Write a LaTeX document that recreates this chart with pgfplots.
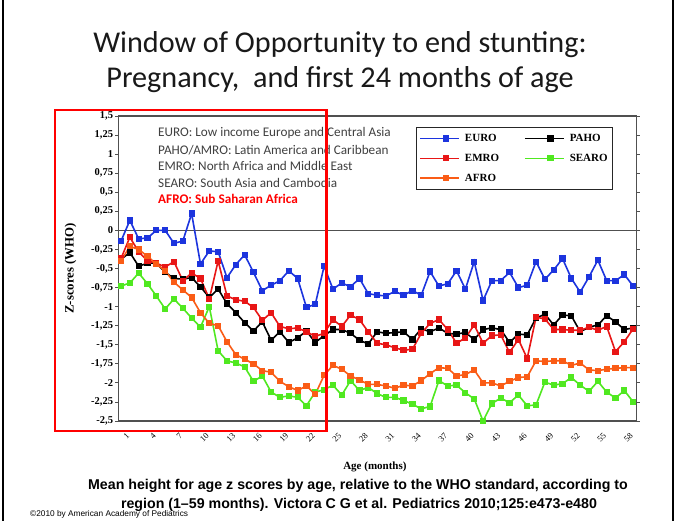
\documentclass[border=0pt]{standalone}
\usepackage{fontspec}
\setmainfont{Liberation Serif}
\newfontfamily\calibri{Carlito}
\newfontfamily\arial{Liberation Sans}
\usepackage{pgfplots}
\usepackage{pgfplotstable}
\pgfplotsset{compat=1.18}
\definecolor{cEuro}{RGB}{28,52,222}
\definecolor{cPaho}{RGB}{0,0,0}
\definecolor{cEmro}{RGB}{232,22,22}
\definecolor{cSearo}{RGB}{80,232,32}
\definecolor{cAfro}{RGB}{250,92,22}
\definecolor{axisgray}{RGB}{80,80,80}
\definecolor{notegray}{RGB}{64,64,64}

\pgfplotstableread{
m z
1 -0.14
2 0.13
3 -0.11
4 -0.10
5 0.00
6 0.00
7 -0.17
8 -0.14
9 0.22
10 -0.44
11 -0.27
12 -0.28
13 -0.62
14 -0.45
15 -0.32
16 -0.55
17 -0.79
18 -0.72
19 -0.66
20 -0.53
21 -0.63
22 -1.01
23 -0.97
24 -0.47
25 -0.77
26 -0.69
27 -0.74
28 -0.63
29 -0.83
30 -0.85
31 -0.86
32 -0.80
33 -0.85
34 -0.79
35 -0.85
36 -0.54
37 -0.73
38 -0.70
39 -0.53
40 -0.77
41 -0.41
42 -0.92
43 -0.66
44 -0.66
45 -0.55
46 -0.75
47 -0.72
48 -0.41
49 -0.64
50 -0.52
51 -0.37
52 -0.63
53 -0.81
54 -0.61
55 -0.39
56 -0.66
57 -0.66
58 -0.58
59 -0.73
}\euro

\pgfplotstableread{
m z
1 -0.38
2 -0.29
3 -0.47
4 -0.43
5 -0.43
6 -0.55
7 -0.63
8 -0.64
9 -0.62
10 -0.74
11 -0.88
12 -0.77
13 -0.96
14 -1.08
15 -1.21
16 -1.32
17 -1.20
18 -1.44
19 -1.33
20 -1.47
21 -1.41
22 -1.32
23 -1.47
24 -1.38
25 -1.30
26 -1.30
27 -1.35
28 -1.44
29 -1.49
30 -1.33
31 -1.35
32 -1.34
33 -1.33
34 -1.43
35 -1.29
36 -1.33
37 -1.28
38 -1.35
39 -1.36
40 -1.34
41 -1.43
42 -1.30
43 -1.28
44 -1.30
45 -1.47
46 -1.36
47 -1.37
48 -1.15
49 -1.10
50 -1.24
51 -1.11
52 -1.12
53 -1.33
54 -1.27
55 -1.24
56 -1.12
57 -1.20
58 -1.30
59 -1.28
}\paho

\pgfplotstableread{
m z
1 -0.37
2 -0.09
3 -0.28
4 -0.40
5 -0.43
6 -0.48
7 -0.41
8 -0.66
9 -0.56
10 -0.63
11 -0.90
12 -0.40
13 -0.86
14 -0.91
15 -0.93
16 -1.01
17 -1.18
18 -1.08
19 -1.26
20 -1.29
21 -1.28
22 -1.33
23 -1.39
24 -1.35
25 -1.17
26 -1.26
27 -1.11
28 -1.17
29 -1.33
30 -1.48
31 -1.50
32 -1.54
33 -1.57
34 -1.56
35 -1.35
36 -1.22
37 -1.17
38 -1.30
39 -1.48
40 -1.41
41 -1.24
42 -1.48
43 -1.38
44 -1.37
45 -1.60
46 -1.43
47 -1.68
48 -1.14
49 -1.16
50 -1.30
51 -1.30
52 -1.31
53 -1.31
54 -1.27
55 -1.31
56 -1.26
57 -1.59
58 -1.46
59 -1.29
}\emro

\pgfplotstableread{
m z
1 -0.73
2 -0.69
3 -0.56
4 -0.70
5 -0.86
6 -1.03
7 -0.90
8 -1.02
9 -1.15
10 -1.27
11 -1.00
12 -1.58
13 -1.71
14 -1.74
15 -1.79
16 -1.98
17 -1.91
18 -2.12
19 -2.19
20 -2.17
21 -2.19
22 -2.30
23 -2.12
24 -2.09
25 -2.03
26 -2.16
27 -1.97
28 -2.10
29 -2.06
30 -2.14
31 -2.19
32 -2.19
33 -2.23
34 -2.28
35 -2.34
36 -2.31
37 -1.97
38 -2.04
39 -2.03
40 -2.13
41 -2.21
42 -2.50
43 -2.27
44 -2.20
45 -2.26
46 -2.16
47 -2.30
48 -2.29
49 -1.99
50 -2.03
51 -2.01
52 -1.93
53 -2.03
54 -2.11
55 -1.98
56 -2.12
57 -2.20
58 -2.10
59 -2.25
}\searo

\pgfplotstableread{
m z
1 -0.40
2 -0.21
3 -0.25
4 -0.34
5 -0.44
6 -0.53
7 -0.68
8 -0.78
9 -0.88
10 -1.08
11 -1.22
12 -1.25
13 -1.46
14 -1.63
15 -1.69
16 -1.75
17 -1.84
18 -1.86
19 -1.98
20 -2.05
21 -2.10
22 -2.04
23 -2.15
24 -1.90
25 -1.77
26 -1.82
27 -1.91
28 -1.96
29 -2.02
30 -2.02
31 -2.04
32 -2.07
33 -2.03
34 -2.04
35 -1.97
36 -1.88
37 -1.80
38 -1.81
39 -1.91
40 -1.89
41 -1.83
42 -2.00
43 -2.00
44 -2.04
45 -1.98
46 -1.93
47 -1.92
48 -1.71
49 -1.72
50 -1.71
51 -1.71
52 -1.77
53 -1.74
54 -1.83
55 -1.84
56 -1.82
57 -1.81
58 -1.80
59 -1.80
}\afro

\begin{document}
\begin{tikzpicture}[x=1pt,y=1pt]
\path[use as bounding box] (0,0) rectangle (684,521);
\fill[white] (0,0) rectangle (684,521);
\draw[black, line width=1.5pt] (3,0) -- (3,521);
\draw[black, line width=1.5pt] (673,0) -- (673,521);

\node[font=\calibri\fontsize{30.2}{34}\selectfont, text=black!90] at (340,476) {Window of Opportunity to end stunting:};
\node[font=\calibri\fontsize{30.2}{34}\selectfont, text=black!90] at (340,441) {Pregnancy,\ \ and first 24 months of age};

\begin{axis}[
  at={(118.3pt,100pt)}, anchor=south west,
  scale only axis, width=518.4pt, height=305pt,
  xmin=0.694, xmax=59.4, ymin=-2.5, ymax=1.5,
  axis line style={axisgray, line width=1.1pt},
  tick style={axisgray, line width=0.8pt},
  tick align=outside,
  major tick length=3pt,
  xtick={1,4,7,10,13,16,19,22,25,28,31,34,37,40,43,46,49,52,55,58},
  xticklabels={1,4,7,10,13,16,19,22,25,28,31,34,37,40,43,46,49,52,55,58},
  x tick style={draw=none},
  xticklabel style={rotate=45, anchor=north east, font=\fontsize{8.5}{10}\selectfont, inner sep=0.5pt, yshift=-9pt, xshift=-2pt},
  ytick={-2.5,-2.25,-2,-1.75,-1.5,-1.25,-1,-0.75,-0.5,-0.25,0,0.25,0.5,0.75,1,1.25,1.5},
  yticklabels={{-2,5},{-2,25},{-2},{-1,75},{-1,5},{-1,25},{-1},{-0,75},{-0,5},{-0,25},{0},{0,25},{0,5},{0,75},{1},{1,25},{1,5}},
  yticklabel style={font=\bfseries\fontsize{10.5}{12}\selectfont, inner sep=1pt, xshift=-1pt},
  ylabel={Z-scores (WHO)},
  ylabel style={at={(axis description cs:-0.092,0.5)}, anchor=center, font=\bfseries\fontsize{12.8}{14}\selectfont},
  xlabel={Age (months)},
  xlabel style={at={(axis description cs:0.495,-0.15)}, anchor=center, font=\bfseries\fontsize{11}{13}\selectfont},
  every axis plot/.append style={line width=1.6pt, mark=square*, mark size=2.3pt, mark options={solid}},
  legend columns=2,
  legend cell align=left,
  legend style={at={(rel axis cs:0.574,0.965)}, anchor=north west,
    draw=black!85, line width=1pt, fill=white,
    font=\bfseries\fontsize{11}{13}\selectfont,
    inner xsep=3pt, inner ysep=5pt, row sep=7pt,
    /tikz/every odd column/.append style={column sep=3pt},
    /tikz/every even column/.append style={column sep=23pt}},
  legend image code/.code={\path (0pt,0pt) -- (12pt,0pt); \draw[mark repeat=2, mark phase=2, #1] plot coordinates {(12pt,0pt) (25.5pt,0pt) (39pt,0pt)};},
]
\draw[axisgray, line width=1pt] (axis cs:0.694,0) -- (axis cs:59.4,0);
\addplot[color=cEuro] table[x=m,y=z] {\euro};
\addlegendentry{EURO}
\addplot[color=cPaho] table[x=m,y=z] {\paho};
\addlegendentry{PAHO}
\addplot[color=cEmro] table[x=m,y=z] {\emro};
\addlegendentry{EMRO}
\addplot[color=cSearo] table[x=m,y=z] {\searo};
\addlegendentry{SEARO}
\addplot[color=cAfro] table[x=m,y=z] {\afro};
\addlegendentry{AFRO}
\end{axis}

\begin{scope}[every node/.style={anchor=west, inner sep=0pt, font=\calibri\fontsize{13.2}{15}\selectfont, text=notegray}]
\node at (158,388) {EURO: Low income Europe and Central Asia};
\node at (158,371) {PAHO/AMRO: Latin America and Caribbean};
\node at (158,355) {EMRO: North Africa and Middle East};
\node at (158,338) {SEARO: South Asia and Cambodia};
\node[text=red, font=\calibri\bfseries\fontsize{13.2}{15}\selectfont] at (158,322) {AFRO: Sub Saharan Africa};
\end{scope}

\draw[red, line width=2.6pt] (55,90) rectangle (326.7,411);

\node[font=\arial\bfseries\fontsize{14.2}{16}\selectfont] at (358,35) {Mean height for age z scores by age, relative to the WHO standard, according to};
\node[font=\arial\bfseries\fontsize{14.2}{16}\selectfont] at (359,16) {region (1–59 months). Victora C G et al. Pediatrics 2010;125:e473-e480};
\node[anchor=west, inner sep=0pt, font=\arial\fontsize{8.3}{9}\selectfont] at (30,7) {©2010 by American Academy of Pediatrics};
\end{tikzpicture}
\end{document}
